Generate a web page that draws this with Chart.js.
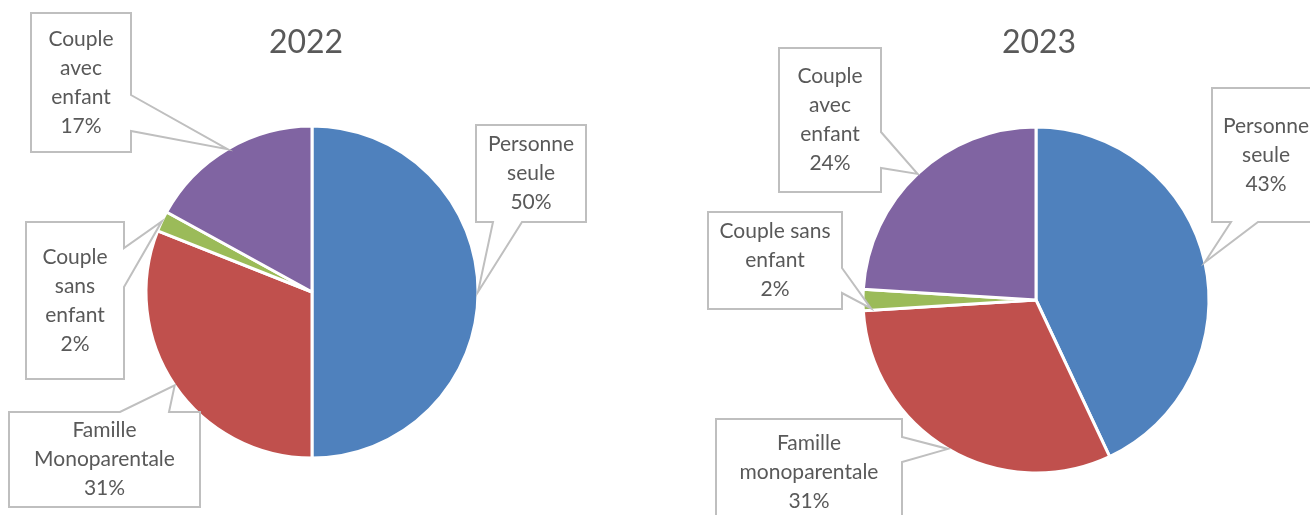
<!DOCTYPE html>
<html><head><meta charset="utf-8">
<script src="https://cdn.jsdelivr.net/npm/chart.js@4.4.1/dist/chart.umd.min.js"></script>
<style>
html,body{margin:0;padding:0;background:#fff;}
#wrap{position:relative;width:1310px;height:515px;overflow:hidden;background:#fff;}
.c{position:absolute;top:0;width:655px;height:515px;}
</style></head><body>
<div id="wrap">
<div class="c" style="left:0"><canvas id="c1" width="655" height="515"></canvas></div>
<div class="c" style="left:655px"><canvas id="c2" width="655" height="515"></canvas></div>
</div>
<script>
// ---- data ----
const categories2022 = ['Personne seule', 'Famille Monoparentale', 'Couple sans enfant', 'Couple avec enfant'];
const values2022 = [50, 31, 2, 17];
const categories2023 = ['Personne seule', 'Famille monoparentale', 'Couple sans enfant', 'Couple avec enfant'];
const values2023 = [43, 31, 2, 24];
const years = ['2022', '2023'];
const sliceColors = ['#4F81BD', '#C0504D', '#9BBB59', '#8064A2'];

// ---- layout (canvas-local coordinates) ----
const layout2022 = {
  title: {x: 306, y: 43},
  padding: {left: 0, right: 31, top: 69, bottom: 0},
  radius: 166,
  callouts: [
    {box: [476, 125, 586, 222], side: 'bottom', base: [493, 522]},
    {box: [9, 412, 200, 507], side: 'top', base: [120, 169]},
    {box: [26, 222, 124, 379], side: 'right', base: [248, 287]},
    {box: [31, 13, 131, 152], side: 'right', base: [95, 131]}
  ]
};
const layout2023 = {
  title: {x: 384, y: 43},
  padding: {left: 107, right: 0, top: 85, bottom: 0},
  radius: 173,
  callouts: [
    {box: [557, 88, 665, 222], side: 'bottom', base: [576, 603]},
    {box: [61, 419, 247, 525], side: 'right', base: [437, 462]},
    {box: [53, 212, 187, 309], side: 'right', base: [268, 293], tipFrac: 0.1, tipR: 0.955},
    {box: [124, 48, 226, 192], side: 'right', base: [132, 168]}
  ]
};

const LABEL_FONT = '21px Lato, "Open Sans", sans-serif';
const TITLE_FONT = '32px Lato, "Open Sans", sans-serif';

function wrapText(ctx, text, maxW) {
  const words = text.split(' ');
  const lines = [];
  let cur = '';
  for (const w of words) {
    const t = cur ? cur + ' ' + w : w;
    if (cur && ctx.measureText(t).width > maxW) { lines.push(cur); cur = w; }
    else cur = t;
  }
  if (cur) lines.push(cur);
  return lines;
}

function calloutPath(ctx, b, side, base, tip) {
  const [x0, y0, x1, y1] = b;
  ctx.beginPath();
  ctx.moveTo(x0, y0);
  if (side === 'top') { ctx.lineTo(base[0], y0); ctx.lineTo(tip.x, tip.y); ctx.lineTo(base[1], y0); }
  ctx.lineTo(x1, y0);
  if (side === 'right') { ctx.lineTo(x1, base[0]); ctx.lineTo(tip.x, tip.y); ctx.lineTo(x1, base[1]); }
  ctx.lineTo(x1, y1);
  if (side === 'bottom') { ctx.lineTo(base[1], y1); ctx.lineTo(tip.x, tip.y); ctx.lineTo(base[0], y1); }
  ctx.lineTo(x0, y1);
  if (side === 'left') { ctx.lineTo(x0, base[1]); ctx.lineTo(tip.x, tip.y); ctx.lineTo(x0, base[0]); }
  ctx.closePath();
}

const calloutPlugin = {
  id: 'callouts',
  afterDatasetsDraw(chart, args, opts) {
    const ctx = chart.ctx;
    const meta = chart.getDatasetMeta(0);
    const data = chart.data.datasets[0].data;
    const labels = chart.data.labels;
    ctx.save();
    // title
    ctx.font = TITLE_FONT;
    ctx.fillStyle = '#595959';
    ctx.textAlign = 'center';
    ctx.textBaseline = 'middle';
    ctx.fillText(opts.title, opts.layout.title.x, opts.layout.title.y);
    // callouts
    opts.layout.callouts.forEach((c, i) => {
      const arc = meta.data[i];
      const p = arc.getProps(['x', 'y', 'startAngle', 'endAngle', 'outerRadius'], true);
      const f = c.tipFrac != null ? c.tipFrac : 0.5;
      const a = p.startAngle + (p.endAngle - p.startAngle) * f;
      const r = p.outerRadius * (c.tipR || 1);
      const tip = {x: p.x + Math.cos(a) * r, y: p.y + Math.sin(a) * r};
      calloutPath(ctx, c.box, c.side, c.base, tip);
      ctx.fillStyle = '#FFFFFF';
      ctx.fill();
      ctx.lineWidth = 2;
      ctx.strokeStyle = '#BFBFBF';
      ctx.lineJoin = 'miter';
      ctx.stroke();
      ctx.font = LABEL_FONT;
      ctx.fillStyle = '#595959';
      const bw = c.box[2] - c.box[0];
      const lines = wrapText(ctx, labels[i], bw - 12);
      lines.push(data[i] + '%');
      const lh = 29;
      const cx = (c.box[0] + c.box[2]) / 2;
      const cy = (c.box[1] + c.box[3]) / 2;
      const startY = cy - (lines.length - 1) * lh / 2;
      lines.forEach((ln, k) => ctx.fillText(ln, cx, startY + k * lh));
    });
    ctx.restore();
  }
};

function makePie(id, cats, vals, title, lay) {
  return new Chart(document.getElementById(id), {
    type: 'pie',
    data: {
      labels: cats,
      datasets: [{
        data: vals,
        backgroundColor: sliceColors,
        borderColor: '#FFFFFF',
        borderWidth: 3,
        radius: lay.radius
      }]
    },
    options: {
      responsive: false,
      animation: false,
      events: [],
      layout: {padding: lay.padding},
      plugins: {
        legend: {display: false},
        tooltip: {enabled: false},
        title: {display: false},
        callouts: {title: title, layout: lay}
      }
    },
    plugins: [calloutPlugin]
  });
}

makePie('c1', categories2022, values2022, years[0], layout2022);
makePie('c2', categories2023, values2023, years[1], layout2023);
</script>
</body></html>
